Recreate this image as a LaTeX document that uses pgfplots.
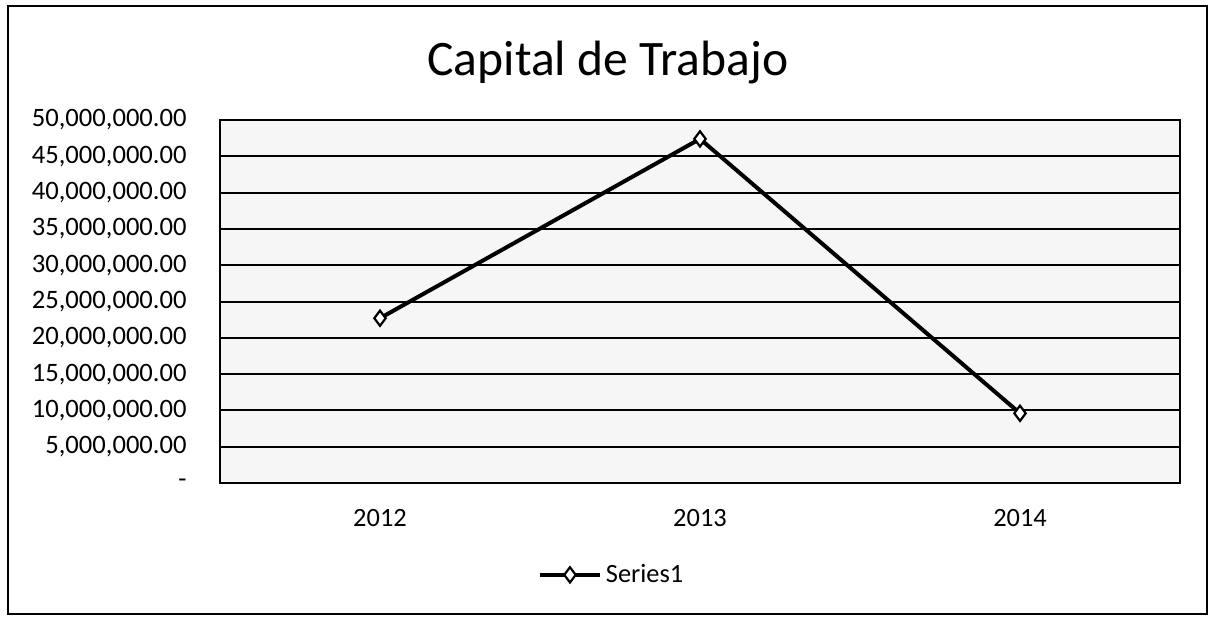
\documentclass[border=0pt]{standalone}
\usepackage{fontspec}
\setmainfont{Carlito}
\usepackage{pgfplots}
\pgfplotsset{compat=1.18}
\begin{document}
\begin{tikzpicture}[x=1bp,y=1bp]
\begin{axis}[
  at={(0,0)}, anchor=south west,
  scale only axis, width=480bp, height=181.5bp,
  xmin=-0.5, xmax=2.5, ymin=0, ymax=50000000,
  xtick={0,1,2}, xticklabels={2012,2013,2014},
  ytick={0,5000000,10000000,15000000,20000000,25000000,30000000,35000000,40000000,45000000,50000000},
  yticklabels={{-\hspace{8bp}},{5,000,000.00},{10,000,000.00},{15,000,000.00},{20,000,000.00},{25,000,000.00},{30,000,000.00},{35,000,000.00},{40,000,000.00},{45,000,000.00},{50,000,000.00}},
  scaled y ticks=false,
  tick style={draw=none},
  yticklabel style={anchor=east, inner sep=0pt, xshift=-16.5bp, font=\fontsize{13.3bp}{15bp}\selectfont},
  xticklabel style={anchor=center, inner sep=0pt, yshift=-17.5bp, font=\fontsize{13.2bp}{15bp}\selectfont},
  ymajorgrids, grid style={black, line width=1bp},
  axis line style={black, line width=1bp},
  axis background/.style={fill=gray!7},
  legend style={at={(0.409,-0.253)}, anchor=center, draw=none, fill=none,
    font=\fontsize{13.2bp}{15bp}\selectfont, inner sep=0pt},
  legend image code/.code={\draw[mark repeat=2,mark phase=2,#1] plot coordinates {(0bp,0bp) (15bp,0bp) (30bp,0bp)};},
]
\addplot[black, line width=2bp, mark=diamond*, mark size=3.8bp,
  mark options={fill=white, line width=1.1bp, solid}]
  coordinates {(0,22700000) (1,47400000) (2,9600000)};
\addlegendentry{Series1}
\end{axis}
\node[anchor=base, font=\fontsize{24.8bp}{29bp}\selectfont] at (194,204) {Capital de Trabajo};
\draw[line width=1bp] (-106,-65.5) rectangle (493.5,238.5);
\pgfresetboundingbox
\useasboundingbox (-110,-67) rectangle (494,241.5);
\end{tikzpicture}
\end{document}
